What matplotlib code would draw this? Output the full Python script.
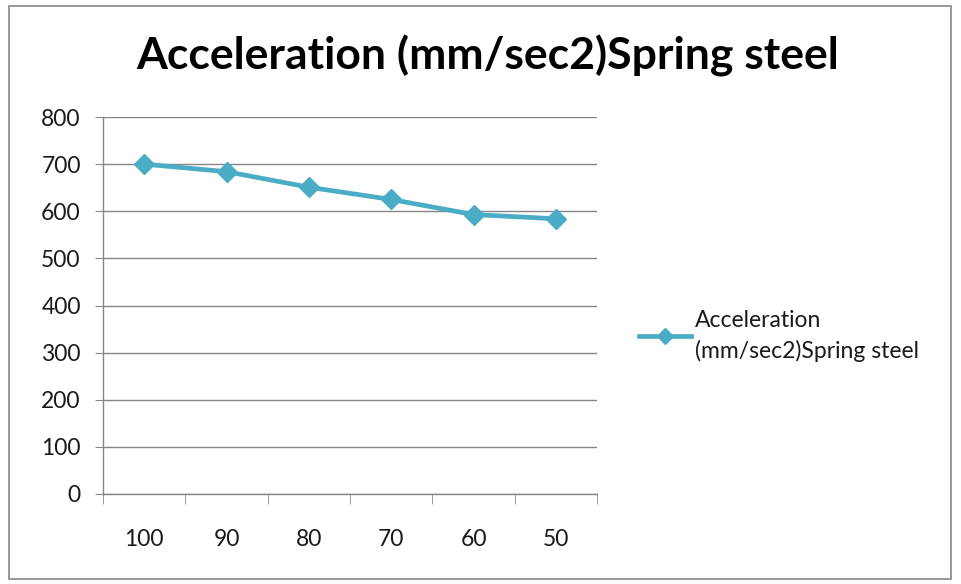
import matplotlib
matplotlib.use("Agg")
import matplotlib.pyplot as plt
import matplotlib.patches as mpatches
import numpy as np

# Speed categories and measured acceleration
categories = ["100", "90", "80", "70", "60", "50"]
acceleration = [700, 684, 651, 625, 593, 584]
series_name = "Acceleration\n(mm/sec2)Spring steel"
title = "Acceleration (mm/sec2)Spring steel"

LINE_COLOR = "#4BACC6"
GRID_COLOR = "#868686"

plt.rcParams["font.family"] = ["Lato", "DejaVu Sans"]

fig = plt.figure(figsize=(9.61, 5.84), dpi=100)
fig.patch.set_facecolor("white")

# outer chart frame
fig.add_artist(mpatches.Rectangle((9 / 961, 1 - 579 / 584), 942 / 961, 573 / 584,
                                  transform=fig.transFigure, fill=False,
                                  edgecolor="#868686", linewidth=1.2))

ax = fig.add_axes([103 / 961, 1 - 494 / 584, 494 / 961, 377 / 584])
x = np.arange(len(categories))
line, = ax.plot(x, acceleration, color=LINE_COLOR, linewidth=3.4,
                marker="D", markersize=10, markerfacecolor=LINE_COLOR,
                markeredgecolor=LINE_COLOR, label=series_name, zorder=3)

ax.set_xlim(-0.5, len(categories) - 0.5)
ax.set_ylim(0, 800)
ax.set_yticks(range(0, 801, 100))
ax.grid(axis="y", color=GRID_COLOR, linewidth=1)
ax.set_axisbelow(True)

# category labels centred, tick marks on the boundaries
ax.set_xticks(x)
ax.set_xticklabels(categories)
ax.set_xticks(np.arange(-0.5, len(categories)), minor=True)
ax.tick_params(axis="x", which="major", length=0, pad=25, labelsize=16.5, labelcolor="#1a1a1a")
ax.tick_params(axis="x", which="minor", length=7, color=GRID_COLOR, direction="out")
ax.tick_params(axis="y", length=6, color=GRID_COLOR, direction="out", pad=10,
               labelsize=16.5, labelcolor="#1a1a1a")

for side in ["top", "right"]:
    ax.spines[side].set_visible(False)
for side in ["left", "bottom"]:
    ax.spines[side].set_color(GRID_COLOR)
    ax.spines[side].set_linewidth(1)

fig.text(488 / 961, 1 - 56 / 584, title, ha="center", va="center",
         fontsize=32, fontweight="bold")

leg = fig.legend(handles=[line], loc="center left",
                 bbox_to_anchor=(618 / 961, 1 - 336 / 584), frameon=False,
                 fontsize=16.5, handlelength=2.3, handletextpad=0.15)
leg.legend_handles[0].set_markersize(8)
for t in leg.get_texts():
    t.set_linespacing(1.5)
    t.set_color("#1a1a1a")

fig.savefig("out.png", dpi=100, facecolor="white")
